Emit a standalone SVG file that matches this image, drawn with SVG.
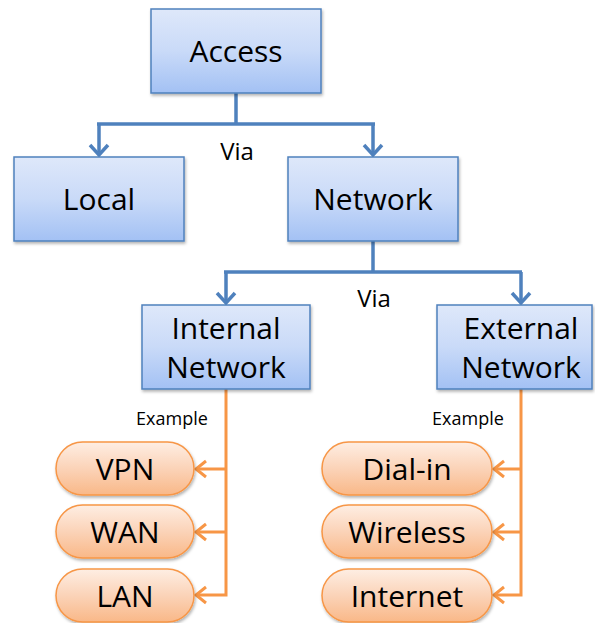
<svg xmlns="http://www.w3.org/2000/svg" width="595" height="623" viewBox="0 0 595 623">
<style>
.box{fill:url(#gb);stroke:#4F81BD;stroke-width:1.5;filter:url(#sh)}
.pill{fill:url(#go);stroke:#F79646;stroke-width:1.5;filter:url(#sh)}
.t{font-family:"Open Sans","Liberation Sans",sans-serif;font-size:30px;fill:#000;text-anchor:middle}
.s{font-family:"Open Sans","Liberation Sans",sans-serif;font-size:18px;fill:#000;text-anchor:middle}
.v{font-family:"Open Sans","Liberation Sans",sans-serif;font-size:24px;fill:#000;text-anchor:middle}
.cb{fill:none;stroke:#4F81BD;stroke-width:3.5}
.co{fill:none;stroke:#F79646;stroke-width:3}
</style>
<defs>
<linearGradient id="gb" x1="0" y1="0" x2="0" y2="1"><stop offset="0" stop-color="#DEE8FA"/><stop offset="0.5" stop-color="#C9DAF8"/><stop offset="1" stop-color="#A3C1F4"/></linearGradient>
<linearGradient id="go" x1="0" y1="0" x2="0" y2="1"><stop offset="0" stop-color="#FEEEE3"/><stop offset="0.5" stop-color="#FBD3B8"/><stop offset="1" stop-color="#F9B888"/></linearGradient>
<filter id="sh" x="-10%" y="-10%" width="130%" height="140%"><feDropShadow dx="1" dy="2" stdDeviation="1.5" flood-color="#000" flood-opacity="0.3"/></filter>
</defs>
<rect width="595" height="623" fill="#fff"/>
<g id="connectors">
<path class="cb" d="M236,93 V124 M97,124 H375 M99,124 V155 M373,124 V155"/>
<path class="cb" d="M90,145 L99,155 L108,145 M364,145 L373,155 L382,145"/>
<path class="cb" d="M373,241 V272 M224,272 H522 M226,272 V303 M521,272 V303"/>
<path class="cb" d="M217,293 L226,303 L235,293 M512,293 L521,303 L530,293"/>
<path class="co" d="M226,389 V595 H196 M226,469 H196 M226,532 H196"/>
<path class="co" d="M206,461 L196,469 L206,477 M206,524 L196,532 L206,540 M206,587 L196,595 L206,603"/>
<path class="co" d="M521,389 V595 H494 M521,469 H494 M521,532 H494"/>
<path class="co" d="M504,461 L494,469 L504,477 M504,524 L494,532 L504,540 M504,587 L494,595 L504,603"/>
<text class="v" x="237" y="160">Via</text>
<text class="v" x="374" y="307">Via</text>
<text class="s" x="172" y="425">Example</text>
<text class="s" x="468" y="425">Example</text>
</g>
<g id="access"><rect class="box" x="151" y="9" width="170" height="84"/><text class="t" x="236" y="62">Access</text></g>
<g id="local"><rect class="box" x="14" y="157" width="170" height="84"/><text class="t" x="99" y="210">Local</text></g>
<g id="network"><rect class="box" x="288" y="157" width="170" height="84"/><text class="t" x="373" y="210">Network</text></g>
<g id="internal"><rect class="box" x="142" y="305" width="168" height="84"/><text class="t" x="226" y="339">Internal</text><text class="t" x="226" y="378">Network</text></g>
<g id="external"><rect class="box" x="437" y="305" width="155" height="84"/><text class="t" x="521" y="339">External</text><text class="t" x="521" y="378">Network</text></g>
<g id="vpn"><rect class="pill" x="56" y="442" width="138" height="53" rx="26.5"/><text class="t" x="125" y="480">VPN</text></g>
<g id="wan"><rect class="pill" x="56" y="505" width="138" height="53" rx="26.5"/><text class="t" x="125" y="543">WAN</text></g>
<g id="lan"><rect class="pill" x="56" y="569" width="138" height="53" rx="26.5"/><text class="t" x="125" y="607">LAN</text></g>
<g id="dialin"><rect class="pill" x="322" y="442" width="170" height="53" rx="26.5"/><text class="t" x="407" y="480">Dial-in</text></g>
<g id="wireless"><rect class="pill" x="322" y="505" width="170" height="53" rx="26.5"/><text class="t" x="407" y="543">Wireless</text></g>
<g id="internet"><rect class="pill" x="322" y="569" width="170" height="53" rx="26.5"/><text class="t" x="407" y="607">Internet</text></g>
</svg>
